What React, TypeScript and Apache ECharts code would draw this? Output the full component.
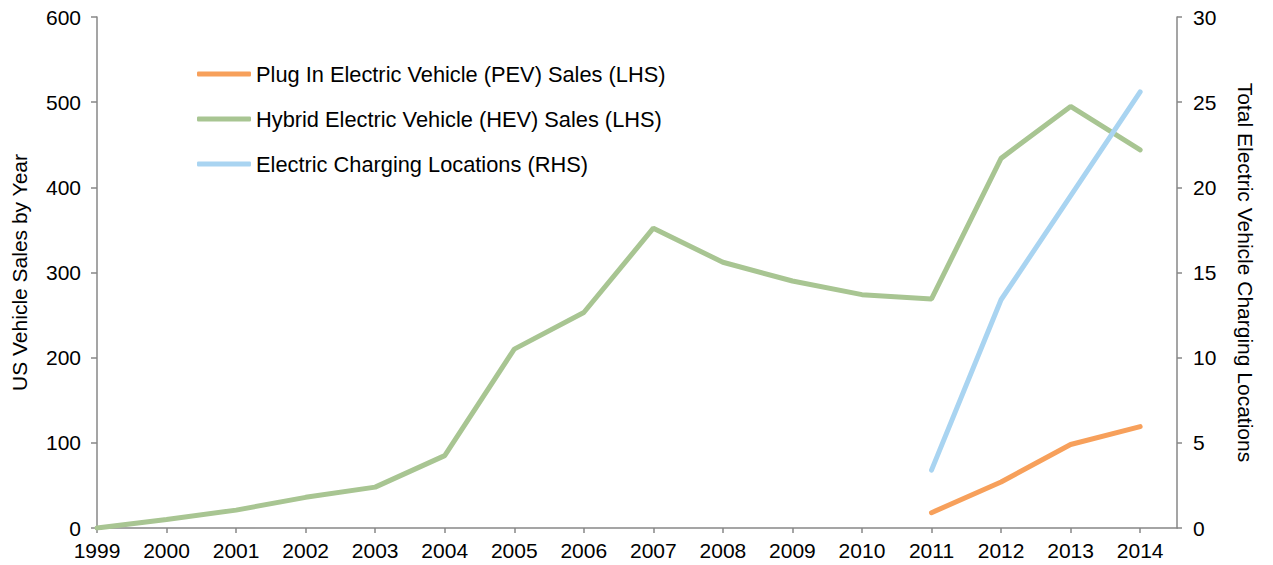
import React, { useEffect, useRef } from "react";
import * as echarts from "echarts";

const years = [1999, 2000, 2001, 2002, 2003, 2004, 2005, 2006, 2007, 2008, 2009, 2010, 2011, 2012, 2013, 2014];
const hevSales = [0, 10, 21, 36, 48, 85, 210, 253, 352, 312, 290, 274, 269, 434, 495, 444];
const pevYears = [2011, 2012, 2013, 2014];
const pevSales = [18, 54, 98, 119];
const chargingYears = [2011, 2012, 2013, 2014];
const chargingLocations = [3.4, 13.4, 19.5, 25.6];
const leftTicks = [0, 100, 200, 300, 400, 500, 600];
const rightTicks = [0, 5, 10, 15, 20, 25, 30];

const names = [
  "Plug In Electric Vehicle (PEV) Sales (LHS)",
  "Hybrid Electric Vehicle (HEV) Sales (LHS)",
  "Electric Charging Locations (RHS)",
];
const colors = ["#F7A05B", "#A8C592", "#A9D4F1"];

export default function App() {
  const ref = useRef<HTMLDivElement>(null);
  useEffect(() => {
    if (!ref.current) return;
    const chart = echarts.init(ref.current, null, { renderer: "svg" });
    const font = "'Liberation Sans', Arial, sans-serif";
    const axisColor = "#878787";
    const fs = 21;
    chart.setOption({
      animation: false,
      textStyle: { fontFamily: font },
      grid: { left: 97, right: 96, top: 17, bottom: 37 },
      legend: {
        orient: "vertical",
        left: 197,
        top: 62,
        padding: 0,
        itemWidth: 54,
        itemHeight: 5,
        itemGap: 21,
        icon: "roundRect",
        textStyle: { fontSize: 21.8, color: "#000", fontFamily: font, lineHeight: 24, padding: 0 },
        data: names,
      },
      xAxis: {
        type: "value",
        min: years[0],
        max: 2014.53,
        interval: 1,
        splitLine: { show: false },
        axisLine: { lineStyle: { color: axisColor, width: 1.5 } },
        axisTick: { show: true, length: 5, lineStyle: { color: axisColor, width: 1.5 }, customValues: years },
        axisLabel: { customValues: years, fontSize: fs, color: "#000", margin: 12, fontFamily: font, formatter: (v: number) => String(v) },
      },
      yAxis: [
        {
          type: "value",
          min: leftTicks[0],
          max: leftTicks[leftTicks.length - 1],
          interval: 100,
          name: "US Vehicle Sales by Year",
          nameLocation: "middle",
          nameGap: 67,
          nameRotate: 90,
          nameTextStyle: { fontSize: fs, color: "#000", fontFamily: font },
          splitLine: { show: false },
          axisLine: { show: true, lineStyle: { color: axisColor, width: 1.5 } },
          axisTick: { show: true, length: 6, lineStyle: { color: axisColor, width: 1.5 } },
          axisLabel: { fontSize: fs, color: "#000", margin: 16, fontFamily: font },
        },
        {
          type: "value",
          min: rightTicks[0],
          max: rightTicks[rightTicks.length - 1],
          interval: 5,
          position: "right",
          name: "Total Electric Vehicle Charging Locations",
          nameLocation: "middle",
          nameGap: 58,
          nameRotate: -90,
          nameTextStyle: { fontSize: fs, color: "#000", fontFamily: font },
          splitLine: { show: false },
          axisLine: { show: true, lineStyle: { color: axisColor, width: 1.5 } },
          axisTick: { show: true, length: 5, lineStyle: { color: axisColor, width: 1.5 } },
          axisLabel: { fontSize: fs, color: "#000", margin: 16, fontFamily: font },
        },
      ],
      series: [
        {
          name: names[0],
          type: "line",
          yAxisIndex: 0,
          data: pevYears.map((y, i) => [y, pevSales[i]]),
          showSymbol: false,
          lineStyle: { color: colors[0], width: 5, cap: "round" },
          itemStyle: { color: colors[0] },
          z: 3,
        },
        {
          name: names[1],
          type: "line",
          yAxisIndex: 0,
          data: years.map((y, i) => [y, hevSales[i]]),
          showSymbol: false,
          lineStyle: { color: colors[1], width: 5, cap: "round" },
          itemStyle: { color: colors[1] },
          z: 2,
        },
        {
          name: names[2],
          type: "line",
          yAxisIndex: 1,
          data: chargingYears.map((y, i) => [y, chargingLocations[i]]),
          showSymbol: false,
          lineStyle: { color: colors[2], width: 5, cap: "round" },
          itemStyle: { color: colors[2] },
          z: 4,
        },
      ],
    });
    return () => chart.dispose();
  }, []);
  return <div ref={ref} style={{ width: 1273, height: 565, position: "absolute", left: 0, top: 0 }} />;
}
